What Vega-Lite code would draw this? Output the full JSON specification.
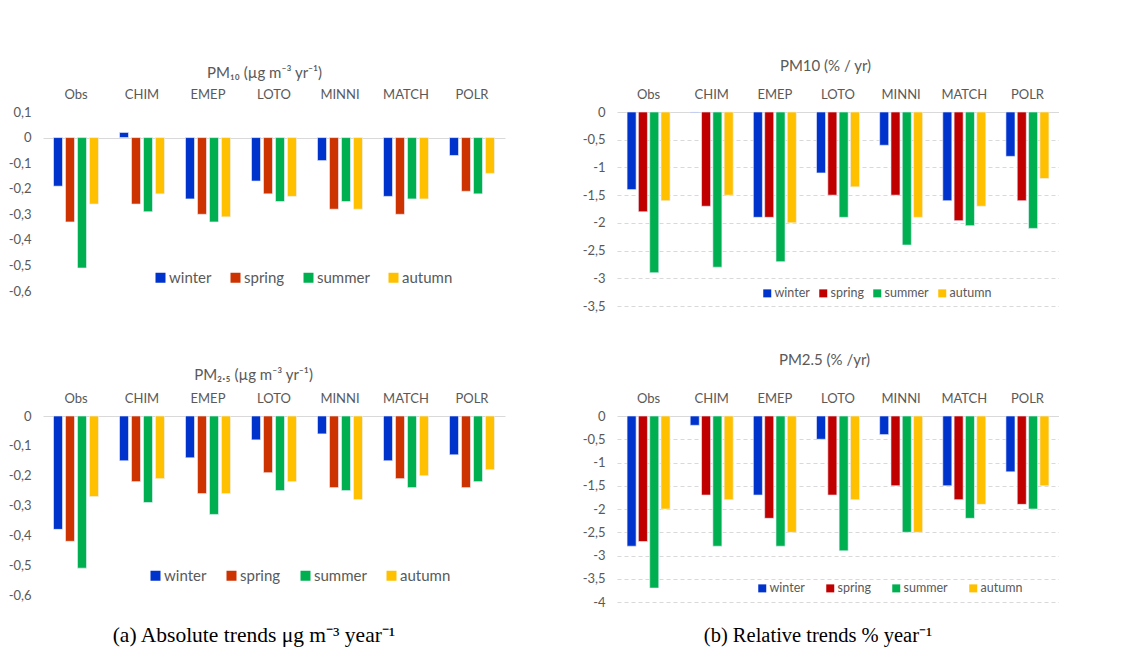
{
  "$schema": "https://vega.github.io/schema/vega-lite/v6.json",
  "padding": {"left": 3, "top": 58, "right": 0, "bottom": 0},
  "background": "white",
  "datasets": {
    "pm10abs": [
      {"model": "Obs", "season": "winter", "value": -0.19}, {"model": "Obs", "season": "spring", "value": -0.33}, {"model": "Obs", "season": "summer", "value": -0.51}, {"model": "Obs", "season": "autumn", "value": -0.26},
      {"model": "CHIM", "season": "winter", "value": 0.02}, {"model": "CHIM", "season": "spring", "value": -0.26}, {"model": "CHIM", "season": "summer", "value": -0.29}, {"model": "CHIM", "season": "autumn", "value": -0.22},
      {"model": "EMEP", "season": "winter", "value": -0.24}, {"model": "EMEP", "season": "spring", "value": -0.30}, {"model": "EMEP", "season": "summer", "value": -0.33}, {"model": "EMEP", "season": "autumn", "value": -0.31},
      {"model": "LOTO", "season": "winter", "value": -0.17}, {"model": "LOTO", "season": "spring", "value": -0.22}, {"model": "LOTO", "season": "summer", "value": -0.25}, {"model": "LOTO", "season": "autumn", "value": -0.23},
      {"model": "MINNI", "season": "winter", "value": -0.09}, {"model": "MINNI", "season": "spring", "value": -0.28}, {"model": "MINNI", "season": "summer", "value": -0.25}, {"model": "MINNI", "season": "autumn", "value": -0.28},
      {"model": "MATCH", "season": "winter", "value": -0.23}, {"model": "MATCH", "season": "spring", "value": -0.30}, {"model": "MATCH", "season": "summer", "value": -0.24}, {"model": "MATCH", "season": "autumn", "value": -0.24},
      {"model": "POLR", "season": "winter", "value": -0.07}, {"model": "POLR", "season": "spring", "value": -0.21}, {"model": "POLR", "season": "summer", "value": -0.22}, {"model": "POLR", "season": "autumn", "value": -0.14}
    ],
    "pm25abs": [
      {"model": "Obs", "season": "winter", "value": -0.38}, {"model": "Obs", "season": "spring", "value": -0.42}, {"model": "Obs", "season": "summer", "value": -0.51}, {"model": "Obs", "season": "autumn", "value": -0.27},
      {"model": "CHIM", "season": "winter", "value": -0.15}, {"model": "CHIM", "season": "spring", "value": -0.22}, {"model": "CHIM", "season": "summer", "value": -0.29}, {"model": "CHIM", "season": "autumn", "value": -0.21},
      {"model": "EMEP", "season": "winter", "value": -0.14}, {"model": "EMEP", "season": "spring", "value": -0.26}, {"model": "EMEP", "season": "summer", "value": -0.33}, {"model": "EMEP", "season": "autumn", "value": -0.26},
      {"model": "LOTO", "season": "winter", "value": -0.08}, {"model": "LOTO", "season": "spring", "value": -0.19}, {"model": "LOTO", "season": "summer", "value": -0.25}, {"model": "LOTO", "season": "autumn", "value": -0.22},
      {"model": "MINNI", "season": "winter", "value": -0.06}, {"model": "MINNI", "season": "spring", "value": -0.24}, {"model": "MINNI", "season": "summer", "value": -0.25}, {"model": "MINNI", "season": "autumn", "value": -0.28},
      {"model": "MATCH", "season": "winter", "value": -0.15}, {"model": "MATCH", "season": "spring", "value": -0.21}, {"model": "MATCH", "season": "summer", "value": -0.24}, {"model": "MATCH", "season": "autumn", "value": -0.20},
      {"model": "POLR", "season": "winter", "value": -0.13}, {"model": "POLR", "season": "spring", "value": -0.24}, {"model": "POLR", "season": "summer", "value": -0.22}, {"model": "POLR", "season": "autumn", "value": -0.18}
    ],
    "pm10rel": [
      {"model": "Obs", "season": "winter", "value": -1.4}, {"model": "Obs", "season": "spring", "value": -1.8}, {"model": "Obs", "season": "summer", "value": -2.9}, {"model": "Obs", "season": "autumn", "value": -1.6},
      {"model": "CHIM", "season": "winter", "value": -0.01}, {"model": "CHIM", "season": "spring", "value": -1.7}, {"model": "CHIM", "season": "summer", "value": -2.8}, {"model": "CHIM", "season": "autumn", "value": -1.5},
      {"model": "EMEP", "season": "winter", "value": -1.9}, {"model": "EMEP", "season": "spring", "value": -1.9}, {"model": "EMEP", "season": "summer", "value": -2.7}, {"model": "EMEP", "season": "autumn", "value": -2.0},
      {"model": "LOTO", "season": "winter", "value": -1.1}, {"model": "LOTO", "season": "spring", "value": -1.5}, {"model": "LOTO", "season": "summer", "value": -1.9}, {"model": "LOTO", "season": "autumn", "value": -1.35},
      {"model": "MINNI", "season": "winter", "value": -0.6}, {"model": "MINNI", "season": "spring", "value": -1.5}, {"model": "MINNI", "season": "summer", "value": -2.4}, {"model": "MINNI", "season": "autumn", "value": -1.9},
      {"model": "MATCH", "season": "winter", "value": -1.6}, {"model": "MATCH", "season": "spring", "value": -1.96}, {"model": "MATCH", "season": "summer", "value": -2.05}, {"model": "MATCH", "season": "autumn", "value": -1.7},
      {"model": "POLR", "season": "winter", "value": -0.8}, {"model": "POLR", "season": "spring", "value": -1.6}, {"model": "POLR", "season": "summer", "value": -2.1}, {"model": "POLR", "season": "autumn", "value": -1.2}
    ],
    "pm25rel": [
      {"model": "Obs", "season": "winter", "value": -2.8}, {"model": "Obs", "season": "spring", "value": -2.7}, {"model": "Obs", "season": "summer", "value": -3.7}, {"model": "Obs", "season": "autumn", "value": -2.0},
      {"model": "CHIM", "season": "winter", "value": -0.2}, {"model": "CHIM", "season": "spring", "value": -1.7}, {"model": "CHIM", "season": "summer", "value": -2.8}, {"model": "CHIM", "season": "autumn", "value": -1.8},
      {"model": "EMEP", "season": "winter", "value": -1.7}, {"model": "EMEP", "season": "spring", "value": -2.2}, {"model": "EMEP", "season": "summer", "value": -2.8}, {"model": "EMEP", "season": "autumn", "value": -2.5},
      {"model": "LOTO", "season": "winter", "value": -0.5}, {"model": "LOTO", "season": "spring", "value": -1.7}, {"model": "LOTO", "season": "summer", "value": -2.9}, {"model": "LOTO", "season": "autumn", "value": -1.8},
      {"model": "MINNI", "season": "winter", "value": -0.4}, {"model": "MINNI", "season": "spring", "value": -1.5}, {"model": "MINNI", "season": "summer", "value": -2.5}, {"model": "MINNI", "season": "autumn", "value": -2.5},
      {"model": "MATCH", "season": "winter", "value": -1.5}, {"model": "MATCH", "season": "spring", "value": -1.8}, {"model": "MATCH", "season": "summer", "value": -2.2}, {"model": "MATCH", "season": "autumn", "value": -1.9},
      {"model": "POLR", "season": "winter", "value": -1.2}, {"model": "POLR", "season": "spring", "value": -1.9}, {"model": "POLR", "season": "summer", "value": -2.0}, {"model": "POLR", "season": "autumn", "value": -1.5}
    ]
  },
  "columns": 2,
  "bounds": "flush",
  "spacing": {"row": 110, "column": 112},
  "resolve": {
    "scale": {"x": "independent", "y": "independent", "xOffset": "independent", "color": "independent"},
    "legend": {"color": "independent"}
  },
  "concat": [
    {
      "width": 462, "height": 179,
      "data": {"name": "pm10abs"},
      "mark": {"type": "bar", "stroke": "#eef2ff", "strokeWidth": 0.6},
      "encoding": {
        "x": {"field": "model", "type": "nominal", "sort": ["Obs", "CHIM", "EMEP", "LOTO", "MINNI", "MATCH", "POLR"], "scale": {"paddingInner": 0, "paddingOuter": 0},
          "axis": {"orient": "top", "labelAngle": 0, "labelPadding": 11, "title": "PM₁₀ (µg m⁻³ yr⁻¹)", "titleX": 221, "titleY": -40, "titleBaseline": "middle", "titleAlign": "center"}},
        "xOffset": {"field": "season", "type": "nominal", "sort": ["winter", "spring", "summer", "autumn"], "scale": {"paddingInner": 0.25, "paddingOuter": 0.875}},
        "y": {"field": "value", "type": "quantitative", "scale": {"domain": [-0.6, 0.1], "nice": false},
          "axis": {"values": [0.1, 0, -0.1, -0.2, -0.3, -0.4, -0.5, -0.6], "labelExpr": "replace(replace(format(datum.value, '.1~f'), '.', ','), '−', '-')", "labelPadding": 12, "title": null, "minExtent": 40, "maxExtent": 40, "grid": true, "gridColor": {"condition": {"test": "datum.value === 0", "value": "#D9D9D9"}, "value": "transparent"}}},
        "color": {"field": "season", "type": "nominal", "scale": {"domain": ["winter", "spring", "summer", "autumn"], "range": ["#0033CC", "#CC3300", "#00B050", "#FFC000"]},
          "legend": {"orient": "none", "legendX": 110, "legendY": 158, "direction": "horizontal", "title": null, "symbolType": "square", "symbolSize": 100, "labelFontSize": 15, "columnPadding": 16}}
      }
    },
    {
      "width": 442, "height": 194,
      "data": {"name": "pm10rel"},
      "mark": {"type": "bar", "stroke": "#eef2ff", "strokeWidth": 0.6},
      "encoding": {
        "x": {"field": "model", "type": "nominal", "sort": ["Obs", "CHIM", "EMEP", "LOTO", "MINNI", "MATCH", "POLR"], "scale": {"paddingInner": 0, "paddingOuter": 0},
          "axis": {"orient": "top", "labelAngle": 0, "labelPadding": 11, "title": "PM10 (% / yr)", "titleX": 208, "titleY": -47, "titleBaseline": "middle", "titleAlign": "center"}},
        "xOffset": {"field": "season", "type": "nominal", "sort": ["winter", "spring", "summer", "autumn"], "scale": {"paddingInner": 0.2, "paddingOuter": 0.89}},
        "y": {"field": "value", "type": "quantitative", "scale": {"domain": [-3.5, 0], "nice": false},
          "axis": {"values": [0, -0.5, -1, -1.5, -2, -2.5, -3, -3.5], "labelExpr": "replace(replace(format(datum.value, '.1~f'), '.', ','), '−', '-')", "labelPadding": 12, "title": null, "minExtent": 40, "maxExtent": 40, "grid": true, "gridColor": "#D9D9D9", "gridDash": {"condition": {"test": "datum.value === 0", "value": []}, "value": [4, 3]}}},
        "color": {"field": "season", "type": "nominal", "scale": {"domain": ["winter", "spring", "summer", "autumn"], "range": ["#0033CC", "#C00000", "#00B050", "#FFC000"]},
          "legend": {"orient": "none", "legendX": 144, "legendY": 175, "direction": "horizontal", "title": null, "symbolType": "square", "symbolSize": 64, "labelFontSize": 12.5, "columnPadding": 7}}
      }
    },
    {
      "width": 462, "height": 179,
      "data": {"name": "pm25abs"},
      "title": {"text": "(a)  Absolute trends μg m⁻³ year⁻¹", "orient": "bottom", "offset": 23, "anchor": "middle", "frame": "bounds", "fontSize": 21.5},
      "mark": {"type": "bar", "stroke": "#eef2ff", "strokeWidth": 0.6},
      "encoding": {
        "x": {"field": "model", "type": "nominal", "sort": ["Obs", "CHIM", "EMEP", "LOTO", "MINNI", "MATCH", "POLR"], "scale": {"paddingInner": 0, "paddingOuter": 0},
          "axis": {"orient": "top", "labelAngle": 0, "labelPadding": 11, "title": "PM₂.₅ (µg m⁻³ yr⁻¹)", "titleX": 210, "titleY": -42, "titleBaseline": "middle", "titleAlign": "center"}},
        "xOffset": {"field": "season", "type": "nominal", "sort": ["winter", "spring", "summer", "autumn"], "scale": {"paddingInner": 0.25, "paddingOuter": 0.875}},
        "y": {"field": "value", "type": "quantitative", "scale": {"domain": [-0.6, 0], "nice": false},
          "axis": {"values": [0, -0.1, -0.2, -0.3, -0.4, -0.5, -0.6], "labelExpr": "replace(replace(format(datum.value, '.1~f'), '.', ','), '−', '-')", "labelPadding": 12, "title": null, "minExtent": 40, "maxExtent": 40, "grid": true, "gridColor": {"condition": {"test": "datum.value === 0", "value": "#D9D9D9"}, "value": "transparent"}}},
        "color": {"field": "season", "type": "nominal", "scale": {"domain": ["winter", "spring", "summer", "autumn"], "range": ["#0033CC", "#CC3300", "#00B050", "#FFC000"]},
          "legend": {"orient": "none", "legendX": 105, "legendY": 152, "direction": "horizontal", "title": null, "symbolType": "square", "symbolSize": 100, "labelFontSize": 15, "columnPadding": 17}}
      }
    },
    {
      "width": 442, "height": 186,
      "data": {"name": "pm25rel"},
      "title": {"text": "(b)  Relative trends % year⁻¹", "orient": "bottom", "offset": 17, "anchor": "middle", "frame": "bounds"},
      "mark": {"type": "bar", "stroke": "#eef2ff", "strokeWidth": 0.6},
      "encoding": {
        "x": {"field": "model", "type": "nominal", "sort": ["Obs", "CHIM", "EMEP", "LOTO", "MINNI", "MATCH", "POLR"], "scale": {"paddingInner": 0, "paddingOuter": 0},
          "axis": {"orient": "top", "labelAngle": 0, "labelPadding": 11, "title": "PM2.5 (% /yr)", "titleX": 207, "titleY": -57, "titleBaseline": "middle", "titleAlign": "center"}},
        "xOffset": {"field": "season", "type": "nominal", "sort": ["winter", "spring", "summer", "autumn"], "scale": {"paddingInner": 0.2, "paddingOuter": 0.89}},
        "y": {"field": "value", "type": "quantitative", "scale": {"domain": [-4, 0], "nice": false},
          "axis": {"values": [0, -0.5, -1, -1.5, -2, -2.5, -3, -3.5, -4], "labelExpr": "replace(replace(format(datum.value, '.1~f'), '.', ','), '−', '-')", "labelPadding": 12, "title": null, "minExtent": 40, "maxExtent": 40, "grid": true, "gridColor": "#D9D9D9", "gridDash": {"condition": {"test": "datum.value === 0", "value": []}, "value": [4, 3]}}},
        "color": {"field": "season", "type": "nominal", "scale": {"domain": ["winter", "spring", "summer", "autumn"], "range": ["#0033CC", "#C00000", "#00B050", "#FFC000"]},
          "legend": {"orient": "none", "legendX": 139, "legendY": 166, "direction": "horizontal", "title": null, "symbolType": "square", "symbolSize": 64, "labelFontSize": 12.5, "columnPadding": 19}}
      }
    }
  ],
  "config": {
    "font": "Lato",
    "view": {"stroke": null},
    "axis": {"domain": false, "ticks": false, "tickSize": 0, "labelColor": "#595959", "labelFontSize": 13, "labelFont": "Lato", "titleColor": "#595959", "titleFont": "Lato", "titleFontWeight": "normal", "titleFontSize": 15},
    "legend": {"labelColor": "#595959", "labelFont": "Lato", "padding": 0, "labelOffset": 1, "symbolStrokeWidth": 0, "symbolOpacity": 1},
    "title": {"font": "Liberation Serif", "fontSize": 20.5, "fontWeight": "normal", "color": "#000000"}
  }
}
